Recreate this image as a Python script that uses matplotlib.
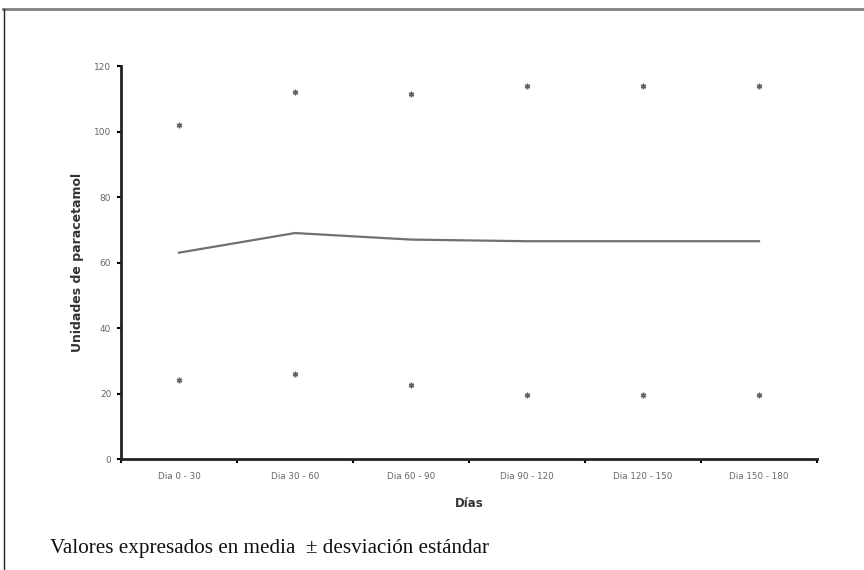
import numpy as np
import matplotlib.pyplot as plt
from matplotlib.lines import Line2D

periodos = ['Dia 0 - 30', 'Dia 30 - 60', 'Dia 60 - 90', 'Dia 90 - 120', 'Dia 120 - 150', 'Dia 150 - 180']
media = [63, 69, 67, 66.5, 66.5, 66.5]
superior = [102, 112, 111.5, 114, 114, 114]
inferior = [24, 26, 22.5, 19.5, 19.5, 19.5]

fig = plt.figure(figsize=(8.64, 5.70), dpi=100)
ax = fig.add_axes([0.140, 0.1947, 0.8056, 0.6895])

x = np.arange(len(periodos))
ax.plot(x, media, color='#707070', lw=1.6)
ax.plot(x, superior, ls='none', marker=(6, 2, 0), ms=4, mew=1.0, color='#606060')
ax.plot(x, inferior, ls='none', marker=(6, 2, 0), ms=4, mew=1.0, color='#606060')

ax.set_xlim(-0.5, len(periodos) - 0.5)
ax.set_ylim(0, 120)
ax.set_yticks(np.arange(0, 121, 20))
ax.set_xticks(np.arange(-0.5, len(periodos), 1))
ax.set_xticklabels([])
ax.set_xticks(x, minor=True)
ax.set_xticklabels(periodos, minor=True)
ax.tick_params(axis='x', which='minor', length=0, pad=9, labelsize=6.3, labelcolor='#666666')
ax.tick_params(axis='x', which='major', length=3, width=1.5, direction='out')
ax.tick_params(axis='y', length=3, width=1.5, labelsize=6.5, labelcolor='#666666', pad=4)

for s in ['top', 'right']:
    ax.spines[s].set_visible(False)
for s in ['left', 'bottom']:
    ax.spines[s].set_linewidth(2)
    ax.spines[s].set_color('#222222')

ax.set_xlabel('Días', fontsize=8.5, fontweight='bold', color='#333333', labelpad=12)
ax.set_ylabel('Unidades de paracetamol', fontsize=9, fontweight='bold', color='#333333', labelpad=7)

fig.text(0.058, 0.038, 'Valores expresados en media  \u00b1 desviación estándar',
         family='Liberation Serif', fontsize=15.2, color='#111111', va='center')

# marco de la figura
fig.add_artist(Line2D([0.004, 1.0], [0.984, 0.984], color='#808080', lw=2))
fig.add_artist(Line2D([0.0045, 0.0045], [0.0, 0.984], color='#222222', lw=1))

fig.savefig('out.png', dpi=100)
